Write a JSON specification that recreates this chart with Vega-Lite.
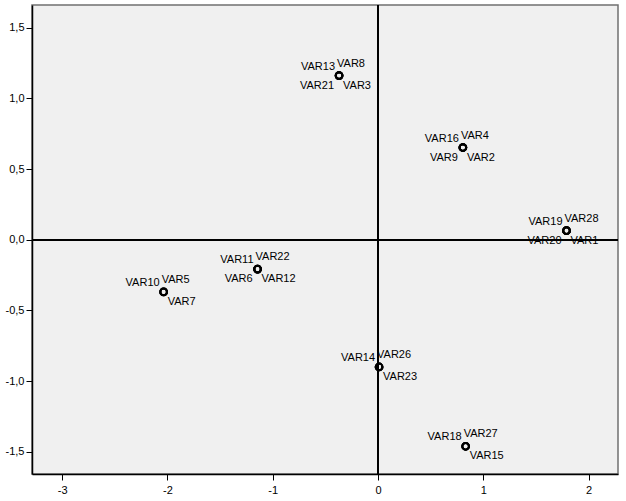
{
  "$schema": "https://vega.github.io/schema/vega-lite/v6.json",
  "autosize": {"type": "none"},
  "padding": {"left": 32, "top": 5, "right": 8, "bottom": 27},
  "width": 586,
  "height": 469,
  "background": "white",
  "config": {
    "view": {"fill": "#f0f0f0", "stroke": "#707070", "strokeWidth": 1.5},
    "font": "Liberation Sans",
    "axis": {
      "grid": false,
      "domainColor": "#000000",
      "domainWidth": 1.5,
      "tickColor": "#000000",
      "tickSize": 6,
      "tickWidth": 1,
      "labelFont": "Liberation Sans",
      "labelFontSize": 11,
      "labelColor": "#000000",
      "title": null
    }
  },
  "data": {
    "values": [
      {"name": "VAR13", "x": -0.37, "y": 1.161},
      {"name": "VAR8", "x": -0.37, "y": 1.161},
      {"name": "VAR3", "x": -0.37, "y": 1.161},
      {"name": "VAR21", "x": -0.37, "y": 1.161},
      {"name": "VAR16", "x": 0.806, "y": 0.652},
      {"name": "VAR4", "x": 0.806, "y": 0.652},
      {"name": "VAR2", "x": 0.806, "y": 0.652},
      {"name": "VAR9", "x": 0.806, "y": 0.652},
      {"name": "VAR19", "x": 1.79, "y": 0.064},
      {"name": "VAR28", "x": 1.79, "y": 0.064},
      {"name": "VAR1", "x": 1.79, "y": 0.064},
      {"name": "VAR20", "x": 1.79, "y": 0.064},
      {"name": "VAR11", "x": -1.144, "y": -0.208},
      {"name": "VAR22", "x": -1.144, "y": -0.208},
      {"name": "VAR12", "x": -1.144, "y": -0.208},
      {"name": "VAR6", "x": -1.144, "y": -0.208},
      {"name": "VAR10", "x": -2.036, "y": -0.369},
      {"name": "VAR5", "x": -2.036, "y": -0.369},
      {"name": "VAR7", "x": -2.036, "y": -0.369},
      {"name": "VAR14", "x": 0.01, "y": -0.9},
      {"name": "VAR26", "x": 0.01, "y": -0.9},
      {"name": "VAR23", "x": 0.01, "y": -0.9},
      {"name": "VAR18", "x": 0.832, "y": -1.461},
      {"name": "VAR27", "x": 0.832, "y": -1.461},
      {"name": "VAR15", "x": 0.832, "y": -1.461}
    ]
  },
  "transform": [
    {"window": [{"op": "row_number", "as": "slot"}], "groupby": ["x", "y"]}
  ],
  "encoding": {
    "x": {
      "field": "x", "type": "quantitative",
      "scale": {"domain": [-3.286, 2.279], "nice": false, "zero": false},
      "axis": {"values": [-3, -2, -1, 0, 1, 2], "labelPadding": 4, "labelExpr": "'' + datum.value"}
    },
    "y": {
      "field": "y", "type": "quantitative",
      "scale": {"domain": [-1.657, 1.66], "nice": false, "zero": false},
      "axis": {
        "values": [-1.5, -1, -0.5, 0, 0.5, 1, 1.5],
        "labelPadding": 2,
        "labelExpr": "replace(replace(format(datum.value, '.1f'), '.', ','), '\u2212', '-')"
      }
    }
  },
  "layer": [
    {
      "mark": {"type": "rule", "color": "#000000", "strokeWidth": 1.2},
      "encoding": {"x": {"datum": 0}, "y": null}
    },
    {
      "mark": {"type": "rule", "color": "#000000", "strokeWidth": 1.2},
      "encoding": {"y": {"datum": 0}, "x": null}
    },
    {
      "mark": {"type": "point", "shape": "circle", "filled": false, "color": "#000000", "strokeWidth": 2, "size": 45, "opacity": 1}
    },
    {
      "transform": [{"filter": "datum.slot == 1"}],
      "mark": {"type": "text", "align": "right", "baseline": "alphabetic", "dx": -4, "dy": -6, "fontSize": 11, "color": "#000000"},
      "encoding": {"text": {"field": "name"}}
    },
    {
      "transform": [{"filter": "datum.slot == 2"}],
      "mark": {"type": "text", "align": "left", "baseline": "alphabetic", "dx": -2, "dy": -9, "fontSize": 11, "color": "#000000"},
      "encoding": {"text": {"field": "name"}}
    },
    {
      "transform": [{"filter": "datum.slot == 3"}],
      "mark": {"type": "text", "align": "left", "baseline": "alphabetic", "dx": 4, "dy": 13, "fontSize": 11, "color": "#000000"},
      "encoding": {"text": {"field": "name"}}
    },
    {
      "transform": [{"filter": "datum.slot == 4"}],
      "mark": {"type": "text", "align": "right", "baseline": "alphabetic", "dx": -5, "dy": 13, "fontSize": 11, "color": "#000000"},
      "encoding": {"text": {"field": "name"}}
    }
  ]
}
